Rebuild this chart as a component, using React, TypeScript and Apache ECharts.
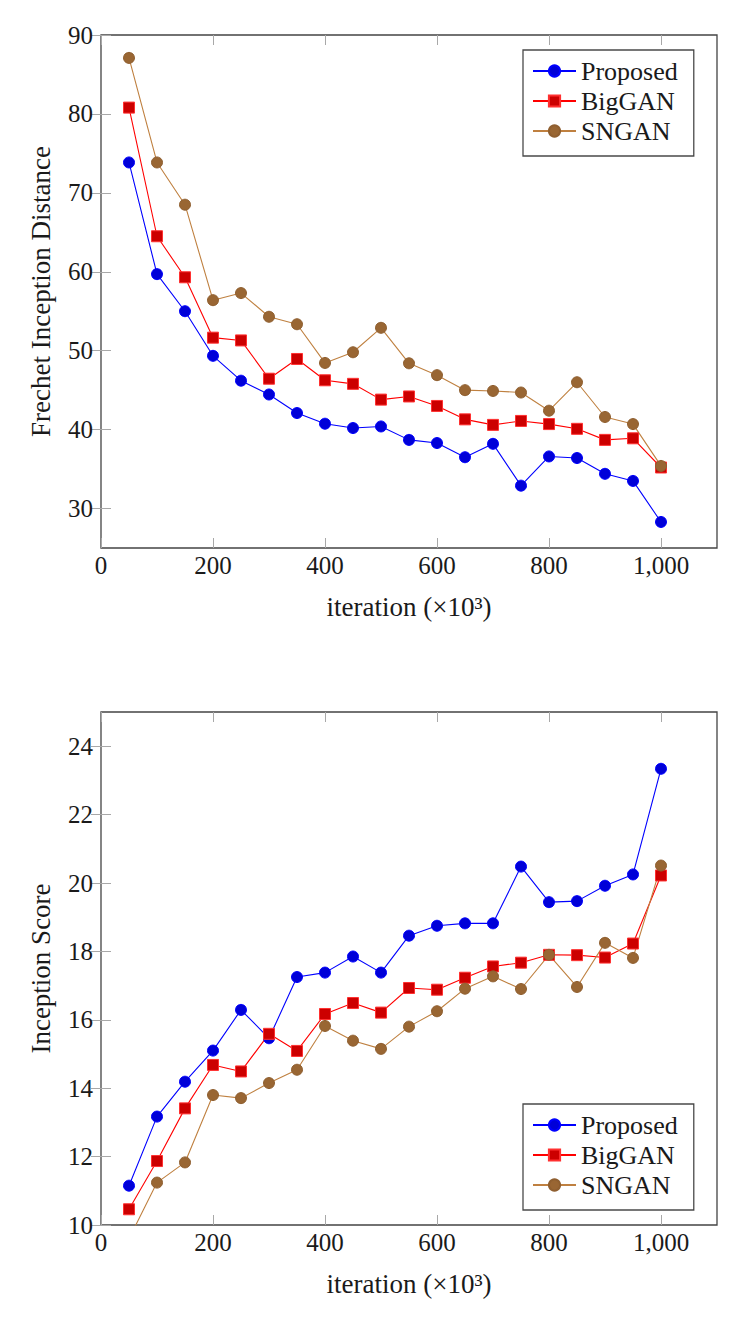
import React, { useEffect, useRef } from "react";
import * as echarts from "echarts";

const ITERATIONS = [50, 100, 150, 200, 250, 300, 350, 400, 450, 500, 550, 600, 650, 700, 750, 800, 850, 900, 950, 1000];

const FID_PROPOSED = [73.85, 59.7, 55.0, 49.35, 46.2, 44.45, 42.1, 40.75, 40.2, 40.4, 38.7, 38.3, 36.5, 38.2, 32.9, 36.6, 36.4, 34.4, 33.5, 28.3];
const FID_BIGGAN = [80.8, 64.5, 59.3, 51.65, 51.3, 46.45, 48.95, 46.25, 45.8, 43.8, 44.2, 43.0, 41.3, 40.6, 41.1, 40.7, 40.1, 38.7, 38.9, 35.2];
const FID_SNGAN = [87.1, 73.85, 68.5, 56.4, 57.3, 54.3, 53.35, 48.45, 49.8, 52.9, 48.4, 46.9, 45.0, 44.9, 44.7, 42.4, 46.0, 41.6, 40.7, 35.4];

const IS_PROPOSED = [11.15, 13.17, 14.19, 15.1, 16.29, 15.46, 17.25, 17.38, 17.85, 17.38, 18.46, 18.75, 18.82, 18.82, 20.48, 19.44, 19.47, 19.92, 20.25, 23.34];
const IS_BIGGAN = [10.46, 11.87, 13.41, 14.68, 14.49, 15.59, 15.09, 16.17, 16.49, 16.21, 16.93, 16.88, 17.23, 17.56, 17.67, 17.9, 17.89, 17.82, 18.23, 20.22];
const IS_SNGAN = [9.6, 11.24, 11.83, 13.8, 13.71, 14.15, 14.54, 15.82, 15.39, 15.15, 15.8, 16.25, 16.91, 17.27, 16.9, 17.9, 16.96, 18.25, 17.81, 20.51];

const SERIES_NAMES = ["Proposed", "BigGAN", "SNGAN"];
const X_TICKS = [0, 200, 400, 600, 800, 1000];
const FID_TICKS = [30, 40, 50, 60, 70, 80, 90];
const IS_TICKS = [10, 12, 14, 16, 18, 20, 22, 24];
const X_TITLE = "iteration (×10³)";
const FID_TITLE = "Frechet Inception Distance";
const IS_TITLE = "Inception Score";

const FONT = "Liberation Serif";
const TEXT_COLOR = "#1a1a1a";

const STYLES = [
  { symbol: "circle", size: 11, line: "#0000ff", fill: "#0000d8", border: "#0000ff" },
  { symbol: "rect", size: 11, line: "#ff0000", fill: "#cc0000", border: "#ff3030" },
  { symbol: "circle", size: 11, line: "#bf8040", fill: "#996633", border: "#8f5f30" },
];

const fmt = (v: number) => String(v).replace(/\B(?=(\d{3})+(?!\d))/g, ",");

function tickStyle(values: number[]) {
  return {
    show: true,
    inside: true,
    length: 10,
    customValues: values,
    lineStyle: { color: "#a8a8a8", width: 1 },
  };
}

function xAxes(gridIndex: number) {
  return [
    {
      type: "value",
      gridIndex,
      position: "bottom",
      min: 0,
      max: 1100,
      name: X_TITLE,
      nameLocation: "middle",
      nameGap: 45,
      nameTextStyle: { fontFamily: FONT, fontSize: 27, color: TEXT_COLOR },
      axisLine: { show: false },
      axisTick: tickStyle(X_TICKS),
      axisLabel: {
        customValues: X_TICKS,
        formatter: (v: number) => fmt(v),
        margin: 5,
        fontFamily: FONT,
        fontSize: 25,
        color: TEXT_COLOR,
      },
      splitLine: { show: false },
    },
    {
      type: "value",
      gridIndex,
      position: "top",
      min: 0,
      max: 1100,
      axisLine: { show: false },
      axisTick: tickStyle(X_TICKS),
      axisLabel: { show: false },
      splitLine: { show: false },
    },
  ];
}

function yAxes(gridIndex: number, min: number, max: number, ticks: number[], title: string) {
  return [
    {
      type: "value",
      gridIndex,
      position: "left",
      min,
      max,
      name: title,
      nameLocation: "middle",
      nameGap: 47,
      nameTextStyle: { fontFamily: FONT, fontSize: 27, color: TEXT_COLOR },
      axisLine: { show: false },
      axisTick: tickStyle(ticks),
      axisLabel: {
        customValues: ticks,
        margin: 8,
        fontFamily: FONT,
        fontSize: 25,
        color: TEXT_COLOR,
      },
      splitLine: { show: false },
    },
    {
      type: "value",
      gridIndex,
      position: "right",
      min,
      max,
      axisLine: { show: false },
      axisTick: tickStyle(ticks),
      axisLabel: { show: false },
      splitLine: { show: false },
    },
  ];
}

function makeSeries(values: number[][], xAxisIndex: number, yAxisIndex: number) {
  return values.map((vals, i) => ({
    type: "line",
    name: SERIES_NAMES[i],
    xAxisIndex,
    yAxisIndex,
    clip: true,
    data: ITERATIONS.map((x, j) => [x, vals[j]]),
    symbol: STYLES[i].symbol,
    symbolSize: STYLES[i].size,
    showAllSymbol: true,
    lineStyle: { color: STYLES[i].line, width: 1.1 },
    itemStyle: { color: STYLES[i].fill, borderColor: STYLES[i].border, borderWidth: 1 },
    emphasis: { disabled: true },
  }));
}

function legend(top: number) {
  return {
    orient: "vertical",
    left: 523,
    top,
    padding: [8, 16, 12, 9],
    itemWidth: 43,
    itemHeight: 14,
    itemGap: 4,
    borderColor: "#4a4a4a",
    borderWidth: 1.3,
    backgroundColor: "#ffffff",
    textStyle: { fontFamily: FONT, fontSize: 26, color: TEXT_COLOR },
    data: SERIES_NAMES,
    selectedMode: false,
  };
}

export default function App() {
  const ref = useRef<HTMLDivElement>(null);

  useEffect(() => {
    if (!ref.current) return;
    const chart = echarts.init(ref.current, null, { renderer: "svg" });
    const option = {
      animation: false,
      backgroundColor: "#ffffff",
      grid: [
        { left: 101, top: 35, width: 616, height: 513, show: true, borderColor: "#444444", borderWidth: 1.3, backgroundColor: "transparent" },
        { left: 101, top: 712, width: 616, height: 513, show: true, borderColor: "#444444", borderWidth: 1.3, backgroundColor: "transparent" },
      ],
      xAxis: [...xAxes(0), ...xAxes(1)],
      yAxis: [...yAxes(0, 25, 90, FID_TICKS, FID_TITLE), ...yAxes(1, 10, 25, IS_TICKS, IS_TITLE)],
      legend: [legend(50), legend(1104)],
      series: [
        ...makeSeries([FID_PROPOSED, FID_BIGGAN, FID_SNGAN], 0, 0),
        ...makeSeries([IS_PROPOSED, IS_BIGGAN, IS_SNGAN], 2, 2),
      ],
    };
    chart.setOption(option as any);
    return () => chart.dispose();
  }, []);

  return <div ref={ref} style={{ position: "absolute", left: 0, top: 0, width: 748, height: 1328 }} />;
}
